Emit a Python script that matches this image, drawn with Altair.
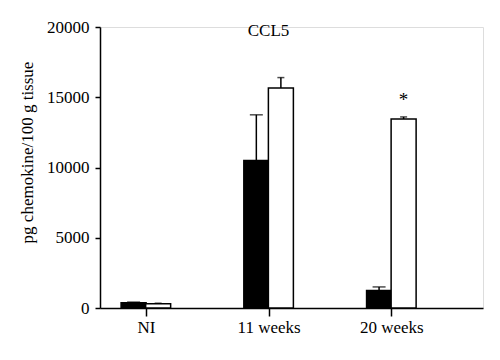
import altair as alt
import pandas as pd

groups = ["NI", "11 weeks", "20 weeks"]
black_vals = [380, 10500, 1250]
black_err = [40, 3250, 250]
white_vals = [300, 15650, 13450]
white_err = [40, 750, 150]
marks = ["", "", "*"]

FONT = "Liberation Serif"
FS = 17

rows = []
for i, g in enumerate(groups):
    rows.append({"group": g, "series": "black", "pos": i - 0.1, "value": black_vals[i],
                 "upper": black_vals[i] + black_err[i], "star": ""})
    rows.append({"group": g, "series": "white", "pos": i + 0.1, "value": white_vals[i],
                 "upper": white_vals[i] + white_err[i], "star": marks[i]})
df = pd.DataFrame(rows)

xscale = alt.Scale(domain=[-0.333, 2.706], nice=False, zero=False)
yscale = alt.Scale(domain=[0, 20000], nice=False)

xaxis = alt.Axis(values=[0, 1, 2], grid=False, title=None,
                 labelExpr="datum.value == 0 ? 'NI' : datum.value == 1 ? '11 weeks' : '20 weeks'",
                 labelFont=FONT, labelFontSize=FS, labelColor="black", labelPadding=3,
                 tickSize=8, tickColor="black", tickWidth=1.5,
                 domainColor="black", domainWidth=1.5)
yaxis = alt.Axis(values=[0, 5000, 10000, 15000, 20000], grid=False, format="d",
                 title="pg chemokine/100 g tissue", titleFont=FONT, titleFontSize=FS,
                 titleFontWeight="normal", titleColor="black", titleX=-73, titleY=125,
                 titleBaseline="middle", titleAlign="center",
                 labelFont=FONT, labelFontSize=FS, labelColor="black", labelPadding=6,
                 tickSize=5, tickColor="black", tickWidth=1.5,
                 domainColor="black", domainWidth=1.5)

base = alt.Chart(df)

err_line = base.mark_rule(color="black", strokeWidth=1.5).encode(
    x=alt.X("pos:Q", scale=xscale, axis=xaxis),
    y=alt.Y("value:Q", scale=yscale, axis=yaxis),
    y2="upper:Q",
)

caps_black = base.transform_filter("datum.series == 'black'").mark_tick(
    orient="horizontal", size=13, thickness=1.5, color="black").encode(
    x=alt.X("pos:Q", scale=xscale), y=alt.Y("upper:Q", scale=yscale))
caps_white = base.transform_filter("datum.series == 'white'").mark_tick(
    orient="horizontal", size=7, thickness=1.5, color="black").encode(
    x=alt.X("pos:Q", scale=xscale), y=alt.Y("upper:Q", scale=yscale))

bars = base.mark_bar(size=25, stroke="black", strokeWidth=1.5).encode(
    x=alt.X("pos:Q", scale=xscale),
    y=alt.Y("value:Q", scale=yscale),
    y2=alt.datum(0),
    fill=alt.Fill("series:N", scale=alt.Scale(domain=["black", "white"], range=["black", "white"]), legend=None),
)

star = base.mark_text(font=FONT, fontSize=19, baseline="alphabetic", dy=-11, color="black").encode(
    x=alt.X("pos:Q", scale=xscale),
    y=alt.Y("upper:Q", scale=yscale),
    text="star:N",
)

chart = alt.layer(err_line, caps_black, caps_white, bars, star).properties(
    width=383, height=281,
    title=alt.TitleParams("CCL5", font=FONT, fontSize=FS, fontWeight="normal", color="black",
                          anchor="middle", dx=-23, offset=-22),
    autosize=alt.AutoSizeParams(type="none"),
    padding={"left": 92, "top": 19, "right": 9, "bottom": 44},
).configure_view(stroke=None).configure(background="white")

chart.save("out.html", embed_options={"renderer": "svg", "actions": False})
